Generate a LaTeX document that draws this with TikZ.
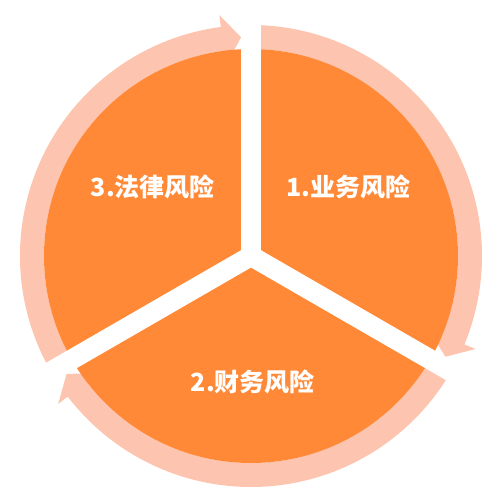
\documentclass[tikz,border=0pt]{standalone}
\usepackage{fontspec}
\newfontfamily\cjk{Noto Sans CJK SC}
\usepackage{tikz}
\definecolor{segorange}{RGB}{255,137,54}
\definecolor{ringpink}{RGB}{253,196,176}

\begin{document}
\begin{tikzpicture}[x=1pt,y=1pt,
		risk/.style={text=white, font=\cjk\bfseries\fontsize{25}{30}\selectfont}]
		\useasboundingbox (-251,-239) rectangle (240,256);
		\foreach \a in {90,-30,210}
			\fill[ringpink] (\a:231) arc[start angle=\a, end angle=\a-112.5, radius=231]
				-- (\a-112.5:243) -- (\a-117.4:219) -- (\a-112.5:192) -- (\a-112.5:207)
				arc[start angle=\a-112.5, end angle=\a, radius=207] -- cycle;
		\fill[segorange] (0,0) circle[radius=207];
		\foreach \a in {90,210,330}
			\draw[white, line width=20] (0,0) -- (\a:260);
		\node[risk] (risk1) at (97.5,69) {1.业务风险};
		\node[risk] (risk2) at (2,-126) {2.财务风险};
		\node[risk] (risk3) at (-98,69) {3.法律风险};
	\end{tikzpicture}
\end{document}
